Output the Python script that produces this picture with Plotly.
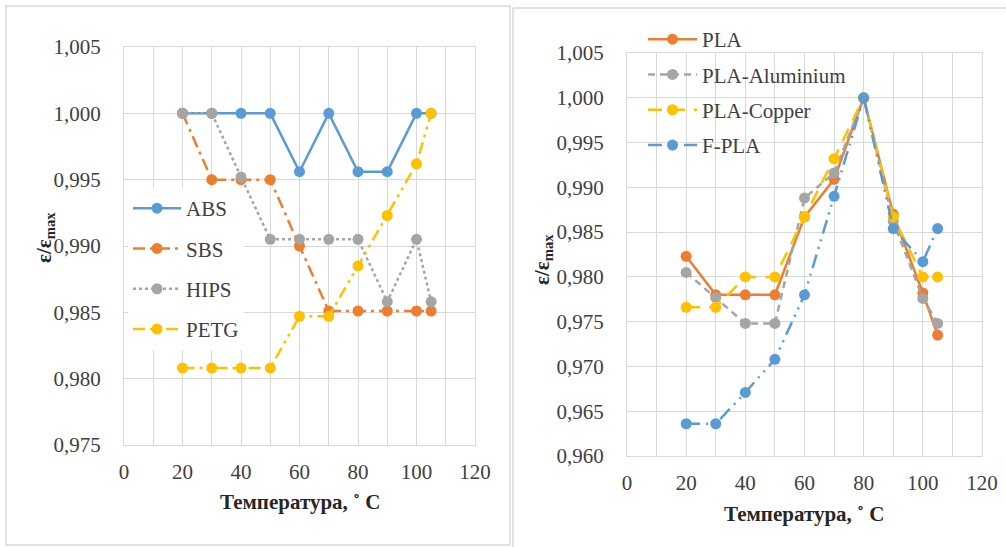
import plotly.graph_objects as go

# ---------------- data ----------------
temps_left = [20, 30, 40, 50, 60, 70, 80, 90, 100, 105]
abs_vals = [1.000, 1.000, 1.000, 1.000, 0.9956, 1.000, 0.9956, 0.9956, 1.000, 1.000]
sbs_vals = [1.000, 0.995, 0.995, 0.995, 0.990, 0.9851, 0.9851, 0.9851, 0.9851, 0.9851]
hips_vals = [1.000, 1.000, 0.9952, 0.9905, 0.9905, 0.9905, 0.9905, 0.9858, 0.9905, 0.9858]
petg_vals = [0.9808, 0.9808, 0.9808, 0.9808, 0.9847, 0.9847, 0.9885, 0.9923, 0.9962, 1.000]

temps_right = [20, 30, 40, 50, 60, 70, 80, 90, 100, 105]
pla_vals = [0.9823, 0.9780, 0.9780, 0.9780, 0.9867, 0.9909, 1.000, 0.9870, 0.9782, 0.9735]
pla_al_vals = [0.9805, 0.9777, 0.9748, 0.9748, 0.9888, 0.9916, 1.000, 0.9862, 0.9776, 0.9748]
pla_cu_vals = [0.9766, 0.9766, 0.9800, 0.9800, 0.9867, 0.9932, 1.000, 0.9867, 0.9800, 0.9800]
fpla_vals = [0.9636, 0.9636, 0.9671, 0.9708, 0.9780, 0.9890, 1.000, 0.9854, 0.9817, 0.9854]

x_ticks = [0, 20, 40, 60, 80, 100, 120]

BLUE = "#5B9BD5"
ORANGE = "#ED7D31"
GRAY = "#A5A5A5"
GOLD = "#FFC000"
GRID = "#D9D9D9"
FONT = "Liberation Serif"

W, H = 1006, 547


def px_x(p):
    return p / W


def px_y(p):
    return 1 - p / H


fig = go.Figure()

left_series = [
    ("ABS", abs_vals, BLUE, "solid"),
    ("SBS", sbs_vals, ORANGE, "12px,5px,3px,5px"),
    ("HIPS", hips_vals, GRAY, "dot"),
    ("PETG", petg_vals, GOLD, "12px,5px,3px,5px,3px,5px"),
]
for name, vals, col, dash in left_series:
    fig.add_trace(go.Scatter(
        x=temps_left, y=vals, name=name, mode="lines+markers",
        line=dict(color=col, width=2.5, dash=dash),
        marker=dict(color=col, size=11),
        xaxis="x", yaxis="y", legend="legend", legendgroup=name,
    ))

right_series = [
    ("PLA", pla_vals, ORANGE, "solid"),
    ("PLA-Aluminium", pla_al_vals, GRAY, "7px,5px"),
    ("PLA-Copper", pla_cu_vals, GOLD, "14px,9px"),
    ("F-PLA", fpla_vals, BLUE, "14px,6px,2px,6px,2px,6px"),
]
for name, vals, col, dash in right_series:
    fig.add_trace(go.Scatter(
        x=temps_right, y=vals, name=name, mode="lines+markers",
        line=dict(color=col, width=2.5, dash=dash),
        marker=dict(color=col, size=11),
        xaxis="x2", yaxis="y2", legend="legend2", legendgroup=name,
    ))

axis_common = dict(
    showgrid=True, gridcolor=GRID, gridwidth=1,
    showline=True, linecolor=GRID, linewidth=1, mirror=True,
    zeroline=False, ticks="", automargin=False,
    tickfont=dict(family=FONT, size=21, color="#404040"),
)

xcommon = dict(axis_common, range=[0, 120], tickmode="array", tickvals=x_ticks,
               minor=dict(dtick=10, tick0=0, showgrid=True, gridcolor=GRID, gridwidth=1),
               ticklabelstandoff=8)

title_font = dict(family=FONT, size=21, color="#262626")

fig.update_layout(
    width=W, height=H, autosize=False,
    margin=dict(l=0, r=0, t=0, b=0, pad=0, autoexpand=False),
    paper_bgcolor="white", plot_bgcolor="white",
    separators=", ",
    showlegend=True,
    xaxis=dict(xcommon, domain=[px_x(124), px_x(475)], anchor="y"),
    yaxis=dict(axis_common, domain=[px_y(445), px_y(47)], anchor="x",
               range=[0.975, 1.005], dtick=0.005, tick0=0.975, tickformat=".3f",
               ticklabelstandoff=18),
    xaxis2=dict(xcommon, domain=[px_x(627), px_x(982)], anchor="y2"),
    yaxis2=dict(axis_common, domain=[px_y(456), px_y(53)], anchor="x2",
                range=[0.960, 1.005], dtick=0.005, tick0=0.960, tickformat=".3f",
                ticklabelstandoff=18),
    legend=dict(
        x=px_x(128), y=px_y(188), xanchor="left", yanchor="top",
        bgcolor="white", font=dict(family=FONT, size=21, color="#404040"),
        tracegroupgap=10, itemwidth=48, traceorder="grouped",
    ),
    legend2=dict(
        x=px_x(643), y=px_y(19), xanchor="left", yanchor="top",
        bgcolor="rgba(255,255,255,0)", font=dict(family=FONT, size=21, color="#404040"),
        tracegroupgap=5, itemwidth=49, traceorder="grouped",
    ),
    shapes=[
        dict(type="rect", xref="paper", yref="paper",
             x0=px_x(6), x1=px_x(510), y0=px_y(545), y1=px_y(6),
             line=dict(color=GRID, width=1.5)),
        dict(type="line", xref="paper", yref="paper",
             x0=px_x(513), x1=px_x(513), y0=0, y1=px_y(8),
             line=dict(color=GRID, width=1.5)),
        dict(type="line", xref="paper", yref="paper",
             x0=px_x(513), x1=1, y0=px_y(8), y1=px_y(8),
             line=dict(color=GRID, width=1.5)),
    ],
    annotations=[
        dict(text="<b>Температура, ˚ C</b>", xref="paper", yref="paper",
             x=px_x(300), y=px_y(502), showarrow=False,
             xanchor="center", yanchor="middle", font=title_font),
        dict(text="<b>Температура, ˚ C</b>", xref="paper", yref="paper",
             x=px_x(804), y=px_y(514), showarrow=False,
             xanchor="center", yanchor="middle", font=title_font),
        dict(text="<b>ε/ε<sub>max</sub></b>", xref="paper", yref="paper",
             x=px_x(45), y=px_y(238), showarrow=False, textangle=-90,
             xanchor="center", yanchor="middle", font=title_font),
        dict(text="<b>ε/ε<sub>max</sub></b>", xref="paper", yref="paper",
             x=px_x(543), y=px_y(260), showarrow=False, textangle=-90,
             xanchor="center", yanchor="middle", font=title_font),
    ],
)

fig.write_html(
    "out.html",
    config={"displayModeBar": False},
    post_script="document.documentElement.style.margin='0';"
                "document.body.style.margin='0';"
                "document.body.style.overflow='hidden';",
)
